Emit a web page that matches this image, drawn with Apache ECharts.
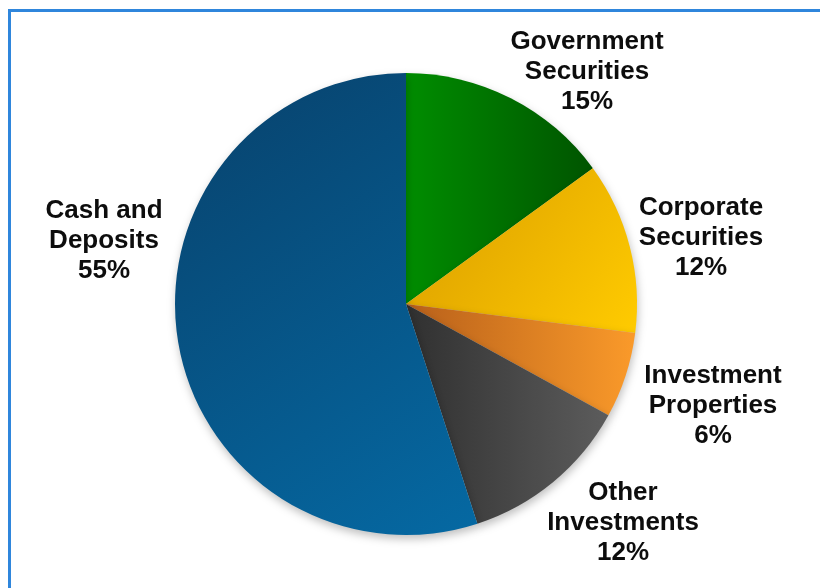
<!DOCTYPE html>
<html>
<head>
<meta charset="utf-8">
<title>Investment Portfolio Allocation</title>
<script src="https://cdn.jsdelivr.net/npm/echarts@6/dist/echarts.min.js"></script>
<style>
  html, body { margin: 0; padding: 0; background: #ffffff; }
  #wrap { position: relative; width: 820px; height: 588px; overflow: hidden; }
  #chart { position: absolute; left: 0; top: 0; width: 820px; height: 588px; }
  #frame {
    position: absolute; left: 8px; top: 9px; width: 830px; height: 600px;
    border-left: 3px solid #2f86dc; border-top: 3px solid #2f86dc;
    box-sizing: border-box; pointer-events: none;
  }
</style>
</head>
<body>
<div id="wrap">
  <div id="chart"></div>
  <div id="frame"></div>
</div>
<script>
// Portfolio categories and their shares (percent), clockwise from 12 o'clock
const categories = [
  'Government Securities',
  'Corporate Securities',
  'Investment Properties',
  'Other Investments',
  'Cash and Deposits'
];
const shares = [15, 12, 6, 12, 55];

// Fill gradients per slice: [x, y, x2, y2, startColor, endColor]
const sliceFills = [
  [0, 0, 1, 0, '#008d00', '#005400'],
  [0, 0, 1, 1, '#d99c00', '#ffcb00'],
  [0, 0, 1, 0, '#b8601a', '#fa9a2a'],
  [0, 0, 1, 0, '#303030', '#5c5c5c'],
  [0, 0, 1, 1, '#08416b', '#0569a3']
];

// Label anchor points (text block centres), placed beside each slice
const labelAnchors = [
  [587, 72],
  [701, 238],
  [713, 406],
  [623, 523],
  [104, 241]
];

function twoLineName(name) {
  const i = name.lastIndexOf(' ');
  return i < 0 ? name : name.slice(0, i) + '\n' + name.slice(i + 1);
}

const chart = echarts.init(document.getElementById('chart'), null, { renderer: 'canvas' });

chart.setOption({
  backgroundColor: 'transparent',
  animation: false,
  series: [{
    type: 'pie',
    center: [406, 304],
    radius: [0, 231],
    startAngle: 90,
    clockwise: true,
    avoidLabelOverlap: false,
    emphasis: { disabled: true },
    data: categories.map((name, i) => {
      const f = sliceFills[i];
      return {
        name: name,
        value: shares[i],
        itemStyle: {
          color: new echarts.graphic.LinearGradient(f[0], f[1], f[2], f[3], [
            { offset: 0, color: f[4] },
            { offset: 1, color: f[5] }
          ])
        }
      };
    }),
    itemStyle: {
      borderWidth: 0,
      shadowBlur: 8,
      shadowOffsetX: 1,
      shadowOffsetY: 4,
      shadowColor: 'rgba(0,0,0,0.25)'
    },
    label: {
      show: true,
      position: 'outside',
      formatter: p => twoLineName(p.name) + '\n' + p.value + '%',
      fontFamily: '"Liberation Sans", Arial, sans-serif',
      fontWeight: 'bold',
      fontSize: 26,
      lineHeight: 30,
      color: '#0d0d0d',
      align: 'center'
    },
    labelLine: { show: false },
    labelLayout: params => {
      const a = labelAnchors[params.dataIndex];
      return { x: a[0], y: a[1], align: 'center', verticalAlign: 'middle' };
    }
  }]
});
</script>
</body>
</html>
